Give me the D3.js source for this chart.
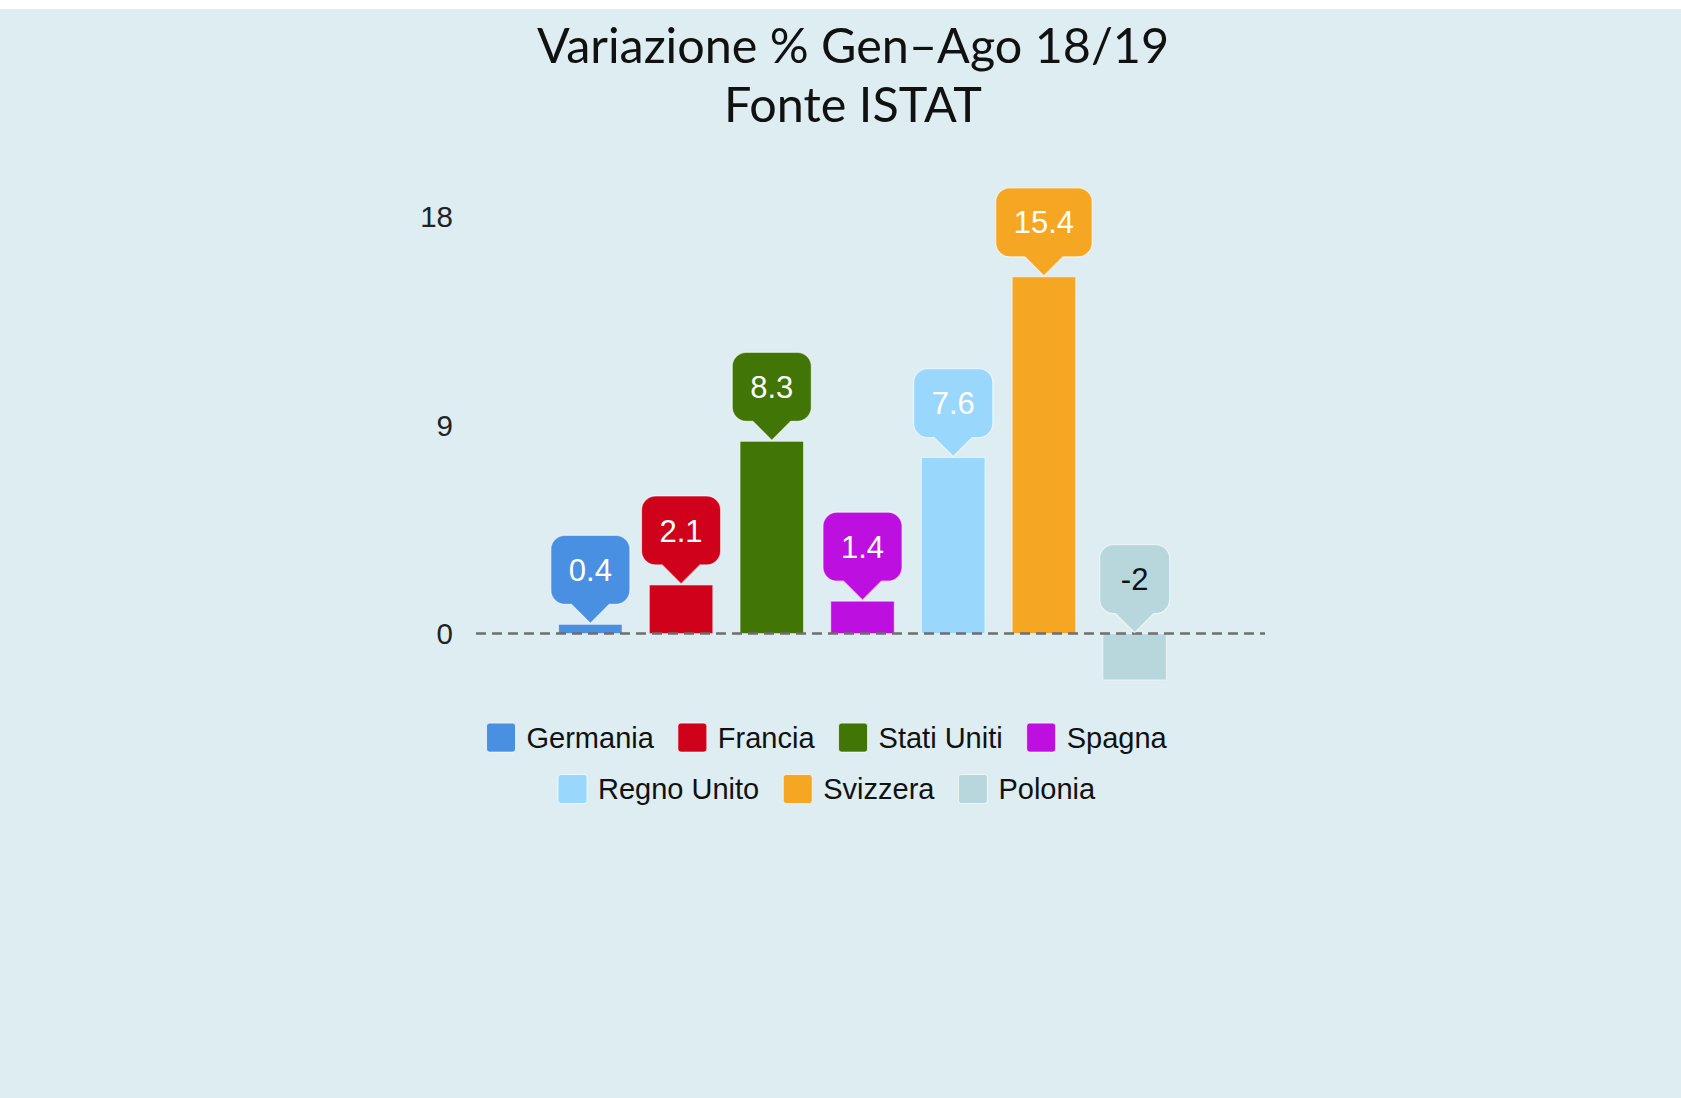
<!DOCTYPE html>
<html>
<head>
<meta charset="utf-8">
<script src="https://cdn.jsdelivr.net/npm/d3@7"></script>
<style>
  body { margin: 0; background: #ffffff; overflow: hidden; }
  .tick-label { font-family: "Liberation Sans", Arial, sans-serif; font-size: 29.5px; fill: #222; }
  .legend text { font-family: "Liberation Sans", Arial, sans-serif; font-size: 29px; fill: #111; }
  .tip text { font-family: "Liberation Sans", Arial, sans-serif; font-size: 31px; }
  .title { font-family: Lato, "Open Sans", sans-serif; fill: #111; }
</style>
</head>
<body>
<div id="chart"></div>
<script>
// Data
var countries = ["Germania", "Francia", "Stati Uniti", "Spagna", "Regno Unito", "Svizzera", "Polonia"];
var values = [0.4, 2.1, 8.3, 1.4, 7.6, 15.4, -2];
var yTicks = [0, 9, 18];
var titleLines = ["Variazione % Gen\u2013Ago 18/19", "Fonte ISTAT"];

// palette, one per country
var colors = ["#4a90e2", "#d0021b", "#417505", "#bd10e0", "#99d8fc", "#f5a623", "#b8d7dd"];
var labelColors = ["#fff", "#fff", "#fff", "#fff", "#fff", "#fff", "#111"];

var W = 1681, H = 1098;

var svg = d3.select("#chart").append("svg")
    .attr("width", W)
    .attr("height", H);

// background (thin white strip left on top)
svg.append("rect")
    .attr("x", 0).attr("y", 9)
    .attr("width", W).attr("height", H - 9)
    .attr("fill", "#ddedf2");

// Title
svg.selectAll(".title")
    .data(titleLines)
    .enter().append("text")
    .attr("class", "title")
    .attr("x", 853)
    .attr("y", function(d, i) { return i == 0 ? 63 : 122; })
    .attr("text-anchor", "middle")
    .style("font-size", "48.5px")
    .text(function(d) { return d; });

// Scales
var x = d3.scaleBand()
    .domain(countries)
    .range([545, 1180])
    .paddingInner(0.3)
    .paddingOuter(0.15);

var y = d3.scaleLinear()
    .domain([0, 18])
    .range([633.6, 216.6]);

// y labels (no axis line)
var yAxis = d3.axisLeft(y)
    .tickValues(yTicks)
    .tickSize(0)
    .tickPadding(0);

var gy = svg.append("g")
    .attr("transform", "translate(453,0)")
    .call(yAxis);
gy.select(".domain").remove();
gy.selectAll("text")
    .attr("class", "tick-label")
    .attr("fill", null)
    .attr("dy", "0.35em");
gy.attr("font-size", null).attr("font-family", null);

// Bars
svg.selectAll(".bar")
    .data(values)
    .enter().append("rect")
    .attr("class", "bar")
    .attr("x", function(d, i) { return x(countries[i]); })
    .attr("width", x.bandwidth())
    .attr("y", function(d) { return y(Math.max(d, 0)); })
    .attr("height", function(d) { return Math.abs(y(d) - y(0)); })
    .attr("fill", function(d, i) { return colors[i]; })
    .attr("stroke", "rgba(255,255,255,0.55)")
    .attr("stroke-width", 1);

// zero line, dashed, over the bars
svg.append("line")
    .attr("x1", 476).attr("x2", 1265)
    .attr("y1", y(0)).attr("y2", y(0))
    .attr("stroke", "#6e6e6e")
    .attr("stroke-width", 2.5)
    .attr("stroke-dasharray", "10,6");

// Value tooltips (rounded box + pointer)
var boxH = 69, ptrH = 19, ptrW = 19, rr = 14, padX = 18;

var tips = svg.selectAll(".tip")
    .data(values)
    .enter().append("g")
    .attr("class", "tip");

tips.append("text")
    .attr("text-anchor", "middle")
    .attr("dy", "0.36em")
    .attr("fill", function(d, i) { return labelColors[i]; })
    .text(function(d) { return d; });

tips.each(function(d, i) {
    var g = d3.select(this);
    var tw = g.select("text").node().getComputedTextLength();
    var w = Math.max(tw + 2 * padX, 70);
    var cx = x(countries[i]) + x.bandwidth() / 2;
    var tip = y(Math.max(d, 0)) - 1;
    var b = tip - ptrH;        // box bottom
    var t = b - boxH;          // box top
    var l = cx - w / 2, r = cx + w / 2;
    var p = d3.path();
    p.moveTo(l + rr, t);
    p.lineTo(r - rr, t);
    p.arcTo(r, t, r, t + rr, rr);
    p.lineTo(r, b - rr);
    p.arcTo(r, b, r - rr, b, rr);
    p.lineTo(cx + ptrW, b);
    p.lineTo(cx, tip);
    p.lineTo(cx - ptrW, b);
    p.lineTo(l + rr, b);
    p.arcTo(l, b, l, b - rr, rr);
    p.lineTo(l, t + rr);
    p.arcTo(l, t, l + rr, t, rr);
    p.closePath();
    g.insert("path", "text")
        .attr("d", p.toString())
        .attr("fill", colors[i])
        .attr("stroke", "rgba(255,255,255,0.6)")
        .attr("stroke-width", 1.2);
    g.select("text")
        .attr("x", cx)
        .attr("y", t + boxH / 2);
});

// Legend, wrapped in centred rows
var legend = svg.append("g").attr("class", "legend");
var sw = 29, gapText = 11, gapItem = 24, maxRow = 720, legendCx = 826.6;
var rowY = [737.6, 789];

var items = legend.selectAll(".item")
    .data(countries)
    .enter().append("g")
    .attr("class", "item");

items.append("rect")
    .attr("width", sw).attr("height", sw)
    .attr("rx", 3)
    .attr("y", -sw / 2)
    .attr("fill", function(d, i) { return colors[i]; })
    .attr("stroke", "rgba(255,255,255,0.7)")
    .attr("stroke-width", 1);

items.append("text")
    .attr("x", sw + gapText)
    .attr("dy", "0.35em")
    .text(function(d) { return d; });

var rows = [[]], rowW = [0];
items.each(function(d, i) {
    var w = sw + gapText + d3.select(this).select("text").node().getComputedTextLength();
    var k = rows.length - 1;
    var add = rows[k].length ? gapItem + w : w;
    if (rowW[k] + add > maxRow && rows[k].length) {
        rows.push([]); rowW.push(0); k++;
        add = w;
    }
    rows[k].push({ node: this, w: w });
    rowW[k] += add;
});

rows.forEach(function(row, k) {
    var cur = legendCx - rowW[k] / 2;
    row.forEach(function(it) {
        d3.select(it.node).attr("transform", "translate(" + cur + "," + rowY[k] + ")");
        cur += it.w + gapItem;
    });
});
</script>
</body>
</html>
